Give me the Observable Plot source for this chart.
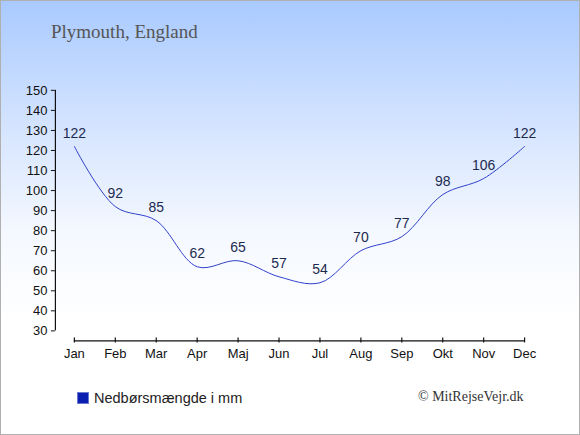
<!DOCTYPE html>
<html>
<head>
<meta charset="utf-8">
<script src="https://cdn.jsdelivr.net/npm/d3@7"></script>
<script src="https://cdn.jsdelivr.net/npm/@observablehq/plot@0.6"></script>
<style>
  html, body { margin: 0; padding: 0; background: #fff; }
  #wrap {
    position: relative; width: 578px; height: 433px;
    border: 1px solid #b0b0b0;
    background: linear-gradient(to bottom, #a9caff 0px, #d6e5ff 130px, #f4f8ff 230px, #ffffff 320px);
    overflow: hidden;
  }
  #title {
    position: absolute; left: 50px; top: 20px;
    font-family: "Liberation Serif", "Times New Roman", serif; font-size: 19px; color: #555;
  }
  #chart { position: absolute; left: -1px; top: -1px; }
  #legend {
    position: absolute; left: 76px; top: 389px;
    font-family: "Liberation Sans", Arial, sans-serif; font-size: 14.5px; color: #222;
    display: flex; align-items: center;
  }
  #legend .sw { width: 10px; height: 10px; background: #0a1fb0; margin-right: 5px; border: 0.5px solid #6a78d0; }
  #credit {
    position: absolute; left: 417px; top: 388px;
    font-family: "Liberation Serif", "Times New Roman", serif; font-size: 14px; color: #333;
  }
</style>
</head>
<body>
<div id="wrap">
  <div id="title">Plymouth, England</div>
  <div id="chart"></div>
  <div id="legend"><span class="sw"></span><span>Nedbørsmængde i mm</span></div>
  <div id="credit">© MitRejseVejr.dk</div>
</div>
<script>
const months = ["Jan","Feb","Mar","Apr","Maj","Jun","Jul","Aug","Sep","Okt","Nov","Dec"];
const rainfall = [122, 92, 85, 62, 65, 57, 54, 70, 77, 98, 106, 122];
const yTicks = [30, 40, 50, 60, 70, 80, 90, 100, 110, 120, 130, 140, 150];

const data = months.map((m, i) => ({i, m, v: rainfall[i]}));
const xMin = -19 / 41;   // y-axis sits slightly left of January

const plot = Plot.plot({
  width: 580,
  height: 435,
  marginLeft: 55,
  marginRight: 55,
  marginTop: 90,
  marginBottom: 94,
  style: {background: "transparent", fontFamily: "Liberation Sans, Arial, sans-serif", fontSize: "13px", color: "#111"},
  x: {type: "linear", domain: [xMin, 11], axis: null},
  y: {domain: [25, 150], axis: null},
  marks: [
    Plot.ruleX([xMin], {y1: 30, y2: 150, stroke: "#111", strokeWidth: 1.2}),
    Plot.ruleY(yTicks, {y: d => d, x1: xMin, x2: xMin, insetLeft: -4, stroke: "#111", strokeWidth: 1}),
    Plot.text(yTicks, {y: d => d, x: xMin, dx: -8, textAnchor: "end", text: d => String(d), fill: "#111", fontSize: 13}),
    Plot.ruleY([25], {x1: 0, x2: 11, stroke: "#111", strokeWidth: 1.2}),
    Plot.ruleX(data, {x: "i", y1: 25, y2: 25, insetTop: -3, insetBottom: -2, stroke: "#111", strokeWidth: 1.2}),
    Plot.text(data, {x: "i", y: 25, dy: 13, text: "m", fill: "#111", fontSize: 13}),
    Plot.line(data, {x: "i", y: "v", curve: "catmull-rom", stroke: "#3040c8", strokeWidth: 1}),
    Plot.text(data, {x: "i", y: "v", dy: -13, text: d => String(d.v), fill: "#1c2a50", fontSize: 14})
  ]
});
document.getElementById("chart").appendChild(plot);
</script>
</body>
</html>
